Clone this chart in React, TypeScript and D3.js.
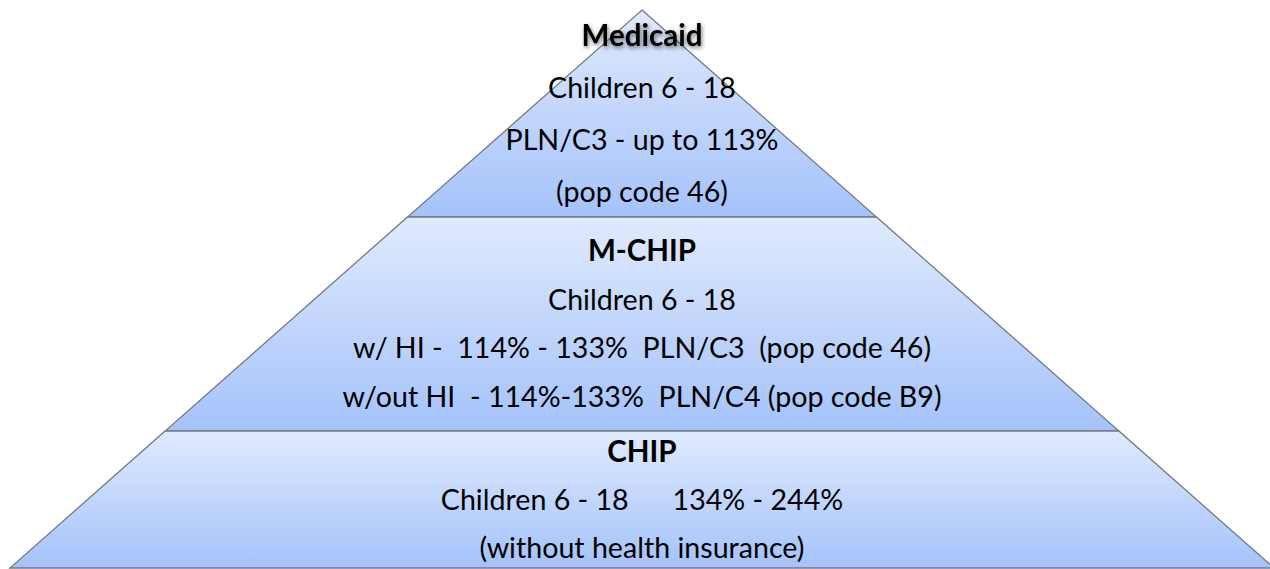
import React, { useRef, useEffect } from 'react';
import * as d3 from 'd3';

// pyramid levels, top to bottom
const levelNames = ['Medicaid', 'M-CHIP', 'CHIP'];
const levelLines = [
  ['Children 6 - 18', 'PLN/C3 - up to 113%', '(pop code 46)'],
  ['Children 6 - 18', 'w/ HI -  114% - 133%  PLN/C3  (pop code 46)', 'w/out HI  - 114%-133%  PLN/C4 (pop code B9)'],
  ['Children 6 - 18      134% - 244%', '(without health insurance)'],
];
// relative height of each level
const levelWeights = [207, 214, 137];

const WIDTH = 1270;
const HEIGHT = 569;
const FONT = 'Lato, "Open Sans", sans-serif';

export default function App() {
  const svgRef = useRef<SVGSVGElement | null>(null);

  useEffect(() => {
    const svg = d3.select(svgRef.current);
    svg.selectAll('*').remove();

    const cx = 642;
    const bounds = Array.from(d3.cumsum([0, ...levelWeights]));
    const total = bounds[bounds.length - 1];

    const y = d3.scaleLinear().domain([0, total]).range([10, 568]);
    const half = d3.scaleLinear().domain([0, total]).range([0, 632]);

    const defs = svg.append('defs');
    const grad = defs.append('linearGradient').attr('id', 'lvlGrad').attr('x1', 0).attr('y1', 0).attr('x2', 0).attr('y2', 1);
    grad.append('stop').attr('offset', '0%').attr('stop-color', '#e0eafd');
    grad.append('stop').attr('offset', '100%').attr('stop-color', '#a4c2fa');

    const shadow = defs.append('filter').attr('id', 'txtShadow').attr('x', '-20%').attr('y', '-40%').attr('width', '140%').attr('height', '180%');
    shadow.append('feDropShadow').attr('dx', 1).attr('dy', 2).attr('stdDeviation', 2).attr('flood-color', '#000').attr('flood-opacity', 0.55);

    const line = d3.line<[number, number]>();

    const levels = levelNames.map((name, i) => ({ name, lines: levelLines[i], t: bounds[i], b: bounds[i + 1] }));

    svg
      .append('g')
      .selectAll('path')
      .data(levels)
      .enter()
      .append('path')
      .attr('d', (d) =>
        line([
          [cx - half(d.t), y(d.t)],
          [cx + half(d.t), y(d.t)],
          [cx + half(d.b), y(d.b)],
          [cx - half(d.b), y(d.b)],
        ]) + 'Z'
      )
      .attr('fill', 'url(#lvlGrad)')
      .attr('stroke', '#757a82')
      .attr('stroke-width', 1.3);

    const lineStep = [52, 48.7, 48];

    levels.forEach((lv, i) => {
      const rows = [lv.name, ...lv.lines];
      const mid = (y(lv.t) + y(lv.b)) / 2;
      const span = (rows.length - 1) * lineStep[i];
      const ry = d3.scalePoint<number>().domain(d3.range(rows.length)).range([mid - span / 2, mid + span / 2]);

      const g = svg.append('g').attr('font-family', FONT).attr('text-anchor', 'middle').attr('fill', '#000');
      g.selectAll('text')
        .data(rows)
        .enter()
        .append('text')
        .attr('x', cx)
        .attr('y', (_, j) => ry(j) as number)
        .attr('dy', '0.35em')
        .attr('font-size', (_, j) => (j === 0 ? 29.5 : 28.6))
        .attr('font-weight', (_, j) => (j === 0 ? 'bold' : 'normal'))
        .attr('filter', (_, j) => (j === 0 && i === 0 ? 'url(#txtShadow)' : null))
        .style('white-space', 'pre')
        .text((d) => d);
    });
  }, []);

  return (
    <>
      <style>{'body{margin:0}'}</style>
      <svg ref={svgRef} width={WIDTH} height={HEIGHT} style={{ display: 'block' }} />
    </>
  );
}
